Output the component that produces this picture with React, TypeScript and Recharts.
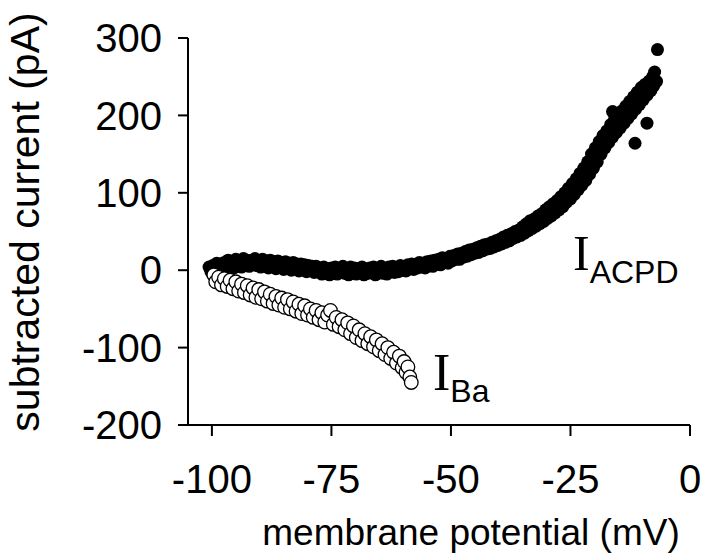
import { ScatterChart, Scatter, XAxis, YAxis, Customized } from "recharts";

// membrane potential (mV) / subtracted current (pA) for the ACPD-induced current
const acpdPoints: [number, number][] = [
  [-100.6, 4], [-100.2, -2], [-99.8, 6], [-99.4, -3], [-99, 9], [-98.6, 3], [-98.2, 8], [-97.8, 1], [-97.4, 10], [-97, 4],
  [-96.6, 13], [-96.2, 7], [-95.8, 11], [-95.4, 3], [-95, 14], [-94.6, 9], [-94.2, 12], [-93.8, 4], [-93.4, 15], [-93, 8],
  [-92.6, 13], [-92.2, 5], [-91.8, 12], [-91.4, 7], [-91, 15], [-90.6, 6], [-90.2, 12], [-89.8, 4], [-89.4, 14], [-89, 8],
  [-88.6, 12], [-88.2, 3], [-87.8, 13], [-87.4, 7], [-87, 11], [-86.6, 2], [-86.2, 12], [-85.8, 6], [-85.4, 10], [-85, 1],
  [-84.6, 11], [-84.2, 5], [-83.8, 9], [-83.4, 0], [-83, 10], [-82.6, 4], [-82.2, 8], [-81.8, -1], [-81.4, 8], [-81, 2],
  [-80.6, 7], [-80.2, -2], [-79.8, 6], [-79.4, 1], [-79, 5], [-78.6, -3], [-78.2, 5], [-77.8, -1], [-77.4, 3], [-77, -5],
  [-76.6, 4], [-76.2, -2], [-75.8, 2], [-75.4, -6], [-75, 3], [-74.6, -1], [-74.2, 4], [-73.8, -5], [-73.4, 2], [-73, -3],
  [-72.6, 5], [-72.2, -4], [-71.8, 1], [-71.4, -6], [-71, 4], [-70.6, -2], [-70.2, 3], [-69.8, -5], [-69.4, 2], [-69, -3],
  [-68.6, 4], [-68.2, -6], [-67.8, 1], [-67.4, -4], [-67, 3], [-66.6, -2], [-66.2, 4], [-65.8, -6], [-65.4, 2], [-65, -3],
  [-64.6, 5], [-64.2, -4], [-63.8, 2], [-63.4, -5], [-63, 4], [-62.6, -1], [-62.2, 5], [-61.8, -3], [-61.4, 3], [-61, -2],
  [-60.6, 6], [-60.2, 0], [-59.8, 5], [-59.4, -1], [-59, 7], [-58.6, 2], [-58.2, 8], [-57.8, 1], [-57.4, 7], [-57, 3],
  [-56.6, 10], [-56.2, 4], [-55.8, 9], [-55.4, 3], [-55, 11], [-54.6, 6], [-54.2, 12], [-53.8, 5], [-53.4, 13], [-53, 8],
  [-52.6, 14], [-52.2, 7], [-51.8, 16], [-51.4, 10], [-51, 15], [-50.6, 9], [-50.2, 18], [-49.8, 12], [-49.4, 19], [-49, 14],
  [-48.6, 21], [-48.2, 14], [-47.8, 22], [-47.4, 17], [-47, 24], [-46.6, 18], [-46.2, 26], [-45.8, 20], [-45.4, 27], [-45, 22],
  [-44.6, 29], [-44.2, 23], [-43.8, 31], [-43.4, 25], [-43, 33], [-42.6, 27], [-42.2, 34], [-41.8, 28], [-41.4, 36], [-41, 30],
  [-40.6, 38], [-40.2, 32], [-39.8, 40], [-39.4, 34], [-39, 43], [-38.6, 36], [-38.2, 45], [-37.8, 38], [-37.4, 47], [-37, 41],
  [-36.6, 50], [-36.2, 43], [-35.8, 52], [-35.4, 45], [-35, 56], [-34.6, 48], [-34.2, 60], [-33.8, 51], [-33.4, 64], [-33, 54],
  [-32.6, 66], [-32.2, 57], [-31.8, 70], [-31.4, 60], [-31, 73], [-30.6, 63], [-30.2, 78], [-29.8, 67], [-29.4, 82], [-29, 70],
  [-28.6, 86], [-28.2, 74], [-27.8, 90], [-27.4, 78], [-27, 95], [-26.6, 82], [-26.2, 100], [-25.8, 88], [-25.4, 106], [-25, 92],
  [-24.6, 112], [-24.2, 98], [-23.8, 118], [-23.4, 104], [-23, 125], [-22.6, 110], [-22.2, 132], [-21.8, 116], [-21.4, 140], [-21, 124],
  [-20.6, 150], [-20.2, 132], [-19.8, 158], [-19.4, 140], [-19, 166], [-18.6, 150], [-18.2, 174], [-17.8, 158], [-17.4, 180], [-17, 165],
  [-16.6, 188], [-16.2, 172], [-16.2, 205], [-15.8, 194], [-15.4, 178], [-15, 200], [-14.6, 184], [-14.2, 206], [-13.8, 190], [-13.4, 212],
  [-13, 196], [-12.6, 218], [-12.2, 202], [-11.8, 224], [-11.5, 164], [-11.4, 208], [-11, 230], [-10.6, 214], [-10.2, 236], [-9.8, 220],
  [-9.4, 240], [-9, 190], [-9, 226], [-8.6, 244], [-8.2, 232], [-7.8, 250], [-7.6, 238], [-7.4, 256], [-7, 244], [-6.8, 285],
];

// Ba2+ current
const baPoints: [number, number][] = [
  [-99.6, -6], [-99.2, -15], [-98.6, -9], [-98, -19], [-97.4, -11], [-96.8, -21], [-96.2, -13],
  [-95.6, -24], [-95, -15], [-94.4, -27], [-93.8, -18], [-93.2, -29], [-92.6, -20], [-92, -32],
  [-91.4, -23], [-90.8, -35], [-90.2, -25], [-89.6, -37], [-89, -28], [-88.4, -40], [-87.8, -31],
  [-87.2, -43], [-86.6, -34], [-86, -45], [-85.4, -36], [-84.8, -48], [-84.2, -38], [-83.6, -50],
  [-83, -41], [-82.4, -53], [-81.8, -44], [-81.2, -56], [-80.6, -46], [-80, -58], [-79.4, -50],
  [-78.8, -61], [-78.2, -52], [-77.6, -64], [-77, -55], [-76.4, -67], [-75.8, -58], [-75.2, -52],
  [-74.6, -70], [-74, -61], [-73.4, -73], [-72.8, -64], [-72.2, -77], [-71.6, -68], [-71, -82],
  [-70.4, -72], [-69.8, -87], [-69.2, -77], [-68.6, -91], [-68, -82], [-67.4, -95], [-66.8, -86],
  [-66.2, -99], [-65.6, -90], [-65, -104], [-64.4, -95], [-63.8, -109], [-63.2, -100], [-62.6, -114],
  [-62, -106], [-61.4, -120], [-60.8, -111], [-60.2, -126], [-59.8, -118], [-59.4, -132], [-59, -125],
  [-58.6, -138], [-58.3, -145],
];

const xTicks = [-100, -75, -50, -25, 0];
const yTicks = [-200, -100, 0, 100, 200, 300];

const acpdData = acpdPoints.map(([v, i]) => ({ v, i }));
const baData = baPoints.map(([v, i]) => ({ v, i }));

const sans = "'Liberation Sans', Arial, sans-serif";
const serif = "'Liberation Serif', 'Times New Roman', serif";

const FilledDot = (props: any) => <circle cx={props.cx} cy={props.cy} r={6.5} fill="#000" />;
const OpenDot = (props: any) => (
  <circle cx={props.cx} cy={props.cy} r={6.8} fill="#fff" stroke="#000" strokeWidth={1.3} />
);

const Annotations = () => (
  <g>
    <text x={471} y={545} textAnchor="middle" fontFamily={sans} fontSize={37} fill="#000">
      membrane potential (mV)
    </text>
    <text
      x={39}
      y={222}
      textAnchor="middle"
      fontFamily={sans}
      fontSize={41}
      fill="#000"
      transform="rotate(-90 39 222)"
    >
      subtracted current (pA)
    </text>
    <text x={573} y={270} fontFamily={serif} fontSize={50} fill="#000">
      I
      <tspan fontFamily={sans} fontSize={32} dy={13}>
        ACPD
      </tspan>
    </text>
    <text x={433} y={390} fontFamily={serif} fontSize={52} fill="#000">
      I
      <tspan fontFamily={sans} fontSize={32} dy={12}>
        Ba
      </tspan>
    </text>
  </g>
);

export default function App() {
  return (
    <div style={{ position: "absolute", left: 0, top: 0, background: "#fff" }}>
      <ScatterChart width={720} height={560} margin={{ top: 38, right: 30, bottom: 0, left: 0 }}>
        <XAxis
          type="number"
          dataKey="v"
          domain={[-105, 0]}
          ticks={xTicks}
          allowDataOverflow
          height={135}
          tickSize={11}
          tickMargin={29}
          stroke="#000"
          strokeWidth={2}
          tick={{ fill: "#000", fontSize: 40, fontFamily: sans }}
        />
        <YAxis
          type="number"
          dataKey="i"
          domain={[-200, 300]}
          ticks={yTicks}
          allowDataOverflow
          width={188}
          tickSize={10}
          tickMargin={16}
          stroke="#000"
          strokeWidth={2}
          tick={{ fill: "#000", fontSize: 40, fontFamily: sans }}
        />
        <Scatter data={acpdData} shape={FilledDot} isAnimationActive={false} />
        <Scatter data={baData} shape={OpenDot} isAnimationActive={false} />
        <Customized component={Annotations} />
      </ScatterChart>
    </div>
  );
}
